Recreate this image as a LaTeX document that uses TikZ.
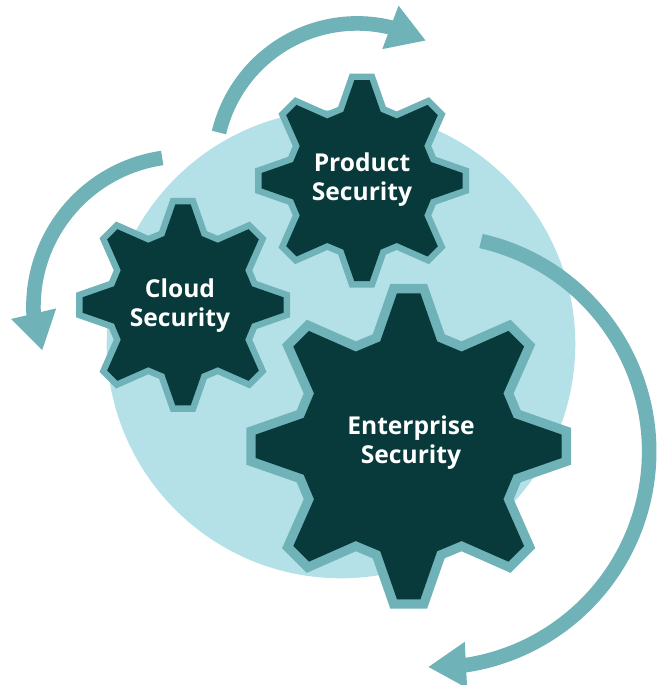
\documentclass[tikz,border=0pt]{standalone}
\usepackage{fontspec}
\setmainfont{Open Sans}
\usepackage{tikz}
\usetikzlibrary{arrows.meta}

\definecolor{paleteal}{HTML}{B4E1E8}
\definecolor{midteal}{HTML}{6FB2B7}
\definecolor{darkteal}{HTML}{083A3B}

\tikzset{
  sweep/.style={draw=midteal, line width=0.292cm, -{Triangle[length=0.76cm, width=0.87cm]}},
  gearlabel/.style={text=white, font=\fontsize{14}{16.6}\selectfont\bfseries, align=center}
}

% one gear: centre, radius of the dark part, width of the rim
\newcommand{\gear}[3]{
  \begin{scope}[shift={#1}, scale=#2]
    \def\gearoutline{(0.0765,1) -- (0.186,0.686) -- (0.346,0.619) -- (0.652,0.754)
      -- (0.754,0.652) -- (0.619,0.346) -- (0.686,0.186) -- (1,0.0765)
      -- (1,-0.0765) -- (0.686,-0.186) -- (0.619,-0.346) -- (0.754,-0.652)
      -- (0.652,-0.754) -- (0.346,-0.619) -- (0.186,-0.686) -- (0.0765,-1)
      -- (-0.0765,-1) -- (-0.186,-0.686) -- (-0.346,-0.619) -- (-0.652,-0.754)
      -- (-0.754,-0.652) -- (-0.619,-0.346) -- (-0.686,-0.186) -- (-1,-0.0765)
      -- (-1,0.0765) -- (-0.686,0.186) -- (-0.619,0.346) -- (-0.754,0.652)
      -- (-0.652,0.754) -- (-0.346,0.619) -- (-0.186,0.686) -- (-0.0765,1) -- cycle}
    \draw[midteal, line width=#3] \gearoutline;
    \fill[darkteal] \gearoutline;
  \end{scope}
}

\begin{document}
\begin{tikzpicture}
  \useasboundingbox (0,0) rectangle (13.16,13.7);
  \fill[paleteal] (6.82,6.82) circle (4.686);

  \coordinate (topstart) at (4.38,11.05);
  \coordinate (toptip) at (8.52,12.886);
  \coordinate (leftstart) at (3.244,10.54);
  \coordinate (lefttip) at (0.846,6.686);
  \coordinate (rightstart) at (9.62,8.88);
  \coordinate (righttip) at (8.56,0.36);

  % arrows round the gears
  \draw[sweep] (topstart) arc[start angle=166.6, end angle=76.5, radius=2.84] -- (toptip);
  \draw[sweep] (leftstart) arc[start angle=98.3, end angle=182.5, radius=3.01] -- (lefttip);
  \draw[sweep] (rightstart) arc[start angle=77.2, end angle=-81, radius=4.32] -- (righttip);

  % gears
  \gear{(7.24,10.086)}{2.01}{0.26cm}
  \gear{(3.66,7.6)}{2.01}{0.26cm}
  \gear{(8.174,4.774)}{3.06}{0.376cm}

  \node[gearlabel] (product) at (7.24,10.1) {Product\\Security};
  \node[gearlabel] (cloud) at (3.6,7.58) {Cloud\\Security};
  \node[gearlabel] (enterprise) at (8.22,4.85) {Enterprise\\Security};
\end{tikzpicture}
\end{document}
